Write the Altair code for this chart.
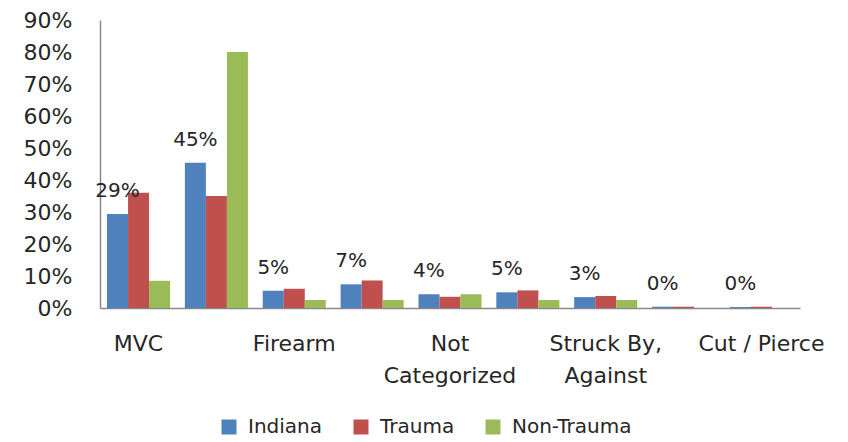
import altair as alt
import pandas as pd

categories = ["MVC", "Fall", "Firearm", "Other Specified", "Not Categorized",
              "Pedestrian", "Struck By, Against", "Pedal Cyclist", "Cut / Pierce"]
series = ["Indiana", "Trauma", "Non-Trauma"]
indiana = [0.294, 0.454, 0.054, 0.074, 0.043, 0.049, 0.034, 0.004, 0.003]
trauma = [0.360, 0.350, 0.060, 0.086, 0.035, 0.055, 0.0375, 0.004, 0.004]
non_trauma = [0.085, 0.800, 0.025, 0.025, 0.043, 0.025, 0.025, 0.0, 0.0]
axis_labels = [["MVC"], [""], ["Firearm"], [""], ["Not", "Categorized"], [""],
               ["Struck By,", "Against"], [""], ["Cut / Pierce"]]
colors = ["#4F81BD", "#C0504D", "#9BBB59"]

rows = []
for vals, s in zip([indiana, trauma, non_trauma], series):
    for c, v in zip(categories, vals):
        rows.append({"category": c, "series": s, "value": v})
df = pd.DataFrame(rows)


def arr(lines):
    return "[" + ",".join("'" + l + "'" for l in lines) + "]"


expr = "''"
for c, lab in reversed(list(zip(categories, axis_labels))):
    expr = f"datum.value == '{c}' ? {arr(lab)} : ({expr})"

FONT = "DejaVu Sans"
TEXT = "#262626"

x = alt.X("category:N", sort=categories,
          scale=alt.Scale(paddingInner=0.19, paddingOuter=0.09),
          axis=alt.Axis(title=None, labelExpr=expr, labelAngle=0, ticks=False,
                        labelPadding=25, labelLineHeight=32, labelFontSize=22,
                        labelFont=FONT, labelColor=TEXT, domainColor="#888888",
                        domainWidth=1.5))
xo = alt.XOffset("series:N", sort=series, scale=alt.Scale(domain=series, paddingInner=0))
y = alt.Y("value:Q", scale=alt.Scale(domain=[0, 0.9]),
          axis=alt.Axis(title=None, format=".0%", values=[i / 10 for i in range(10)],
                        grid=False, ticks=False, labelPadding=28, labelFontSize=22,
                        labelFont=FONT, labelColor=TEXT, domainColor="#888888",
                        domainWidth=1.5))

bars = alt.Chart(df).mark_bar().encode(
    x=x, xOffset=xo, y=y,
    color=alt.Color("series:N", sort=series,
                    scale=alt.Scale(domain=series, range=colors),
                    legend=alt.Legend(title=None, orient="none", direction="horizontal",
                                      legendX=119, legendY=397, symbolType="square",
                                      symbolSize=225, symbolStrokeWidth=0,
                                      labelFontSize=20, labelFont=FONT, labelColor=TEXT,
                                      columnPadding=28, labelOffset=9)),
)

labels = alt.Chart(df).transform_filter(alt.datum.series == "Indiana").mark_text(
    dy=-23, baseline="middle", fontSize=20, font=FONT, color=TEXT
).encode(x=x, xOffset=xo, y=y, text=alt.Text("value:Q", format=".0%"))

chart = alt.layer(bars, labels).properties(
    width=700, height=288,
    autosize=alt.AutoSizeParams(type="none"),
    padding={"left": 92, "top": 12, "right": 40, "bottom": 132},
).configure_view(stroke=None)

chart.save("out.html", embed_options={"renderer": "svg", "actions": False})
